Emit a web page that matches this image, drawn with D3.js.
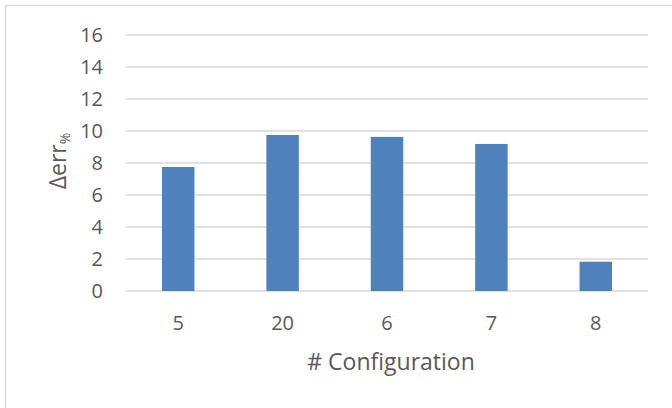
<!DOCTYPE html>
<head>
    <meta charset="utf-8">
    <script src="https://d3js.org/d3.v7.min.js"></script>
    <style>
        body {
            margin: 0;
            background: white;
            font-family: "Open Sans", sans-serif;
        }

        .grid-line {
            stroke: #d9d9d9;
            stroke-width: 1.3px;
        }

        .tick-label {
            fill: #595959;
            font-size: 20px;
        }

        .axis-title {
            fill: #595959;
            font-size: 23px;
        }

        .bar {
            fill: #4f81bd;
        }
    </style>
</head>

<body>
<script>
    var categories = ["5", "20", "6", "7", "8"];
    var deltaErr = [7.75, 9.75, 9.63, 9.19, 1.83];
    var yTicks = [0, 2, 4, 6, 8, 10, 12, 14, 16];

    var width = 672,
        height = 408;

    var margin = {top: 35, right: 24, bottom: 117, left: 126};

    var svg = d3.select("body").append("svg")
        .attr("width", width)
        .attr("height", height);

    // outer chart border (cut off on the right and bottom)
    svg.append("rect")
        .attr("x", 5.5)
        .attr("y", 5.5)
        .attr("width", 700)
        .attr("height", 500)
        .attr("fill", "white")
        .attr("stroke", "#d9d9d9")
        .attr("stroke-width", 1.3);

    var x = d3.scaleBand()
        .domain(categories)
        .range([margin.left, width - margin.right])
        .paddingInner(0.689)
        .paddingOuter(0.3445);

    var y = d3.scaleLinear()
        .domain([0, 16])
        .range([height - margin.bottom, margin.top]);

    var lineGenerator = d3.line();

    svg.append("g")
        .attr("class", "grid-lines")
        .selectAll("path")
        .data(yTicks)
        .enter().append("path")
        .attr("class", "grid-line")
        .attr("d", function(d) {
            return lineGenerator([[margin.left, y(d)], [width - margin.right, y(d)]]);
        });

    svg.append("g")
        .selectAll("text")
        .data(yTicks)
        .enter().append("text")
        .attr("class", "tick-label")
        .attr("x", 103)
        .attr("y", function(d) { return y(d); })
        .attr("dy", "0.36em")
        .attr("text-anchor", "end")
        .text(function(d) { return d; });

    var bars = categories.map(function(c, i) { return {name: c, value: deltaErr[i]}; });

    svg.append("g")
        .selectAll("rect")
        .data(bars)
        .enter().append("rect")
        .attr("class", "bar")
        .attr("x", function(d) { return x(d.name); })
        .attr("width", x.bandwidth())
        .attr("y", function(d) { return y(d.value); })
        .attr("height", function(d) { return y(0) - y(d.value); });

    svg.append("g")
        .selectAll("text")
        .data(categories)
        .enter().append("text")
        .attr("class", "tick-label")
        .attr("x", function(d) { return x(d) + x.bandwidth() / 2; })
        .attr("y", 330)
        .attr("text-anchor", "middle")
        .text(function(d) { return d; });

    svg.append("text")
        .attr("class", "axis-title")
        .attr("x", 391)
        .attr("y", 370)
        .attr("text-anchor", "middle")
        .text("# Configuration");

    var yTitle = svg.append("text")
        .attr("class", "axis-title")
        .attr("transform", "translate(66,161) rotate(-90)")
        .attr("text-anchor", "middle");
    yTitle.append("tspan").text("Δerr");
    yTitle.append("tspan")
        .attr("font-size", "14px")
        .attr("dy", "0.25em")
        .text("%");
</script>
</body>
</html>
